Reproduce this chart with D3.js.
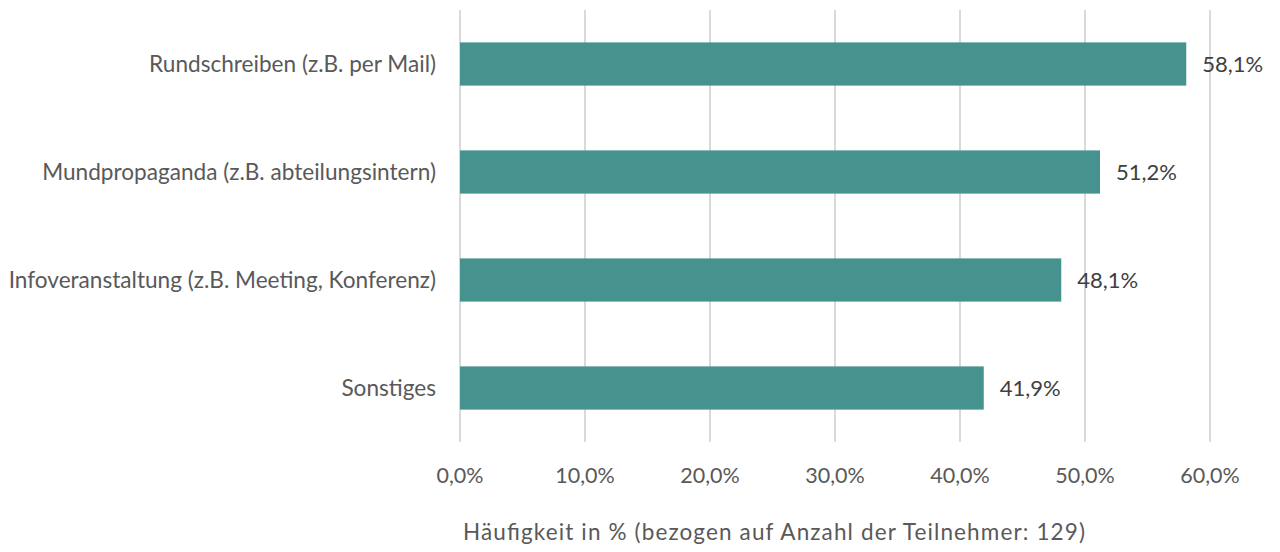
<!DOCTYPE html>
<html><head><meta charset="utf-8">
<script src="https://cdn.jsdelivr.net/npm/d3@7"></script>
<style>body{margin:0;background:#fff;} text{font-family:Lato, "Open Sans", sans-serif;}</style>
</head><body><svg id="c" width="1280" height="552"></svg>
<script>
const categories = ["Rundschreiben (z.B. per Mail)","Mundpropaganda (z.B. abteilungsintern)","Infoveranstaltung (z.B. Meeting, Konferenz)","Sonstiges"];
const values = [58.1, 51.2, 48.1, 41.9];
const tickValues = [0,10,20,30,40,50,60];
const axisTitle = "Häufigkeit in % (bezogen auf Anzahl der Teilnehmer: 129)";

const svg = d3.select("#c");
const x = d3.scaleLinear().domain([0,60]).range([460,1210]);
const y = d3.scaleBand().domain(categories).range([10,442]).paddingInner(0.6).paddingOuter(0.3);
const fmt = v => v.toFixed(1).replace(".", ",") + "%";

svg.append("g").selectAll("line").data(tickValues).join("line")
  .attr("x1", d=>x(d)).attr("x2", d=>x(d)).attr("y1",10).attr("y2",442)
  .attr("stroke","#d9d9d9").attr("stroke-width",2);

svg.append("g").selectAll("rect").data(values).join("rect")
  .attr("x", x(0)).attr("y",(d,i)=>y(categories[i]))
  .attr("width", d=>x(d)-x(0)).attr("height", y.bandwidth())
  .attr("fill","#46928f");

svg.append("g").selectAll("text").data(values).join("text")
  .attr("x", d=>x(d)+16).attr("y",(d,i)=>y(categories[i])+y.bandwidth()/2)
  .attr("dy","0.35em").attr("font-size",22).attr("fill","#404040").text(fmt);

svg.append("g").selectAll("text").data(categories).join("text")
  .attr("x", 436).attr("y", d=>y(d)+y.bandwidth()/2).attr("dy","0.35em")
  .attr("text-anchor","end").attr("font-size",22.6).attr("fill","#595959").text(d=>d);

svg.append("g").selectAll("text").data(tickValues).join("text")
  .attr("x", d=>x(d)).attr("y", 475).attr("dy","0.35em")
  .attr("text-anchor","middle").attr("font-size",21.5).attr("fill","#595959").text(fmt);

svg.append("text").attr("x", 774).attr("y", 532).attr("dy","0.35em")
  .attr("text-anchor","middle").attr("font-size",22.5).attr("fill","#595959")
  .attr("textLength",622).attr("lengthAdjust","spacing").text(axisTitle);
</script></body></html>
